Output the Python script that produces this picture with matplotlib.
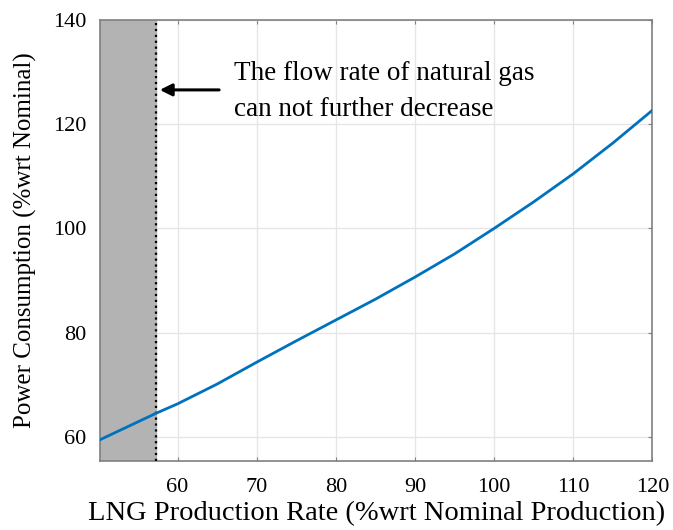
import matplotlib.pyplot as plt

plt.rcParams['font.family'] = ['Liberation Serif', 'DejaVu Serif']

# LNG production rate (%) vs power consumption (%)
rate = [50.2, 57.3, 60, 65, 70, 75, 80, 85, 90, 95, 100, 105, 110, 115, 120]
power = [59.4, 64.5, 66.3, 70.1, 74.3, 78.4, 82.4, 86.4, 90.65, 95.1, 100.0, 105.1, 110.5, 116.4, 122.7]
min_rate = 57.3
note = "The flow rate of natural gas\ncan not further decrease"

fig = plt.figure(figsize=(6.73, 5.3), dpi=100)
ax = fig.add_axes([0.1486, 0.130, 0.8209, 0.832])

ax.set_xlim(50.2, 120)
ax.set_ylim(55.3, 140)
ax.set_xticks([60, 70, 80, 90, 100, 110, 120])
ax.set_yticks([60, 80, 100, 120, 140])

# infeasible region
ax.axvspan(50.2, min_rate, color='#b3b3b3', zorder=1)
ax.axvline(min_rate, color='black', linestyle=':', linewidth=1.6, zorder=3)

ax.plot(rate, power, color='#0072BD', linewidth=2.0, zorder=4)

ax.grid(True, color='#e6e6e6', linewidth=1.0, zorder=0)
ax.set_axisbelow(True)
for s in ax.spines.values():
    s.set_color('#808080')
    s.set_linewidth(1.2)
ax.tick_params(direction='in', length=3, color='#808080', labelsize=16,
               top=True, right=True)
ax.tick_params(axis='x', pad=12)
ax.tick_params(axis='y', pad=10)

ax.annotate('', xy=(min_rate + 0.1, 126.6), xytext=(65.6, 126.6),
            arrowprops=dict(arrowstyle='-|>', color='black', lw=2.2,
                            mutation_scale=18), zorder=5)
ax.text(67.1, 126.3, note, fontsize=19.5, va='center', ha='left',
        linespacing=1.6, zorder=5)

ax.set_xlabel('LNG Production Rate (%wrt Nominal Production)', fontsize=20.5, labelpad=3)
ax.set_ylabel('Power Consumption (%wrt Nominal)', fontsize=18, labelpad=11)

fig.savefig('out.png', dpi=100)
